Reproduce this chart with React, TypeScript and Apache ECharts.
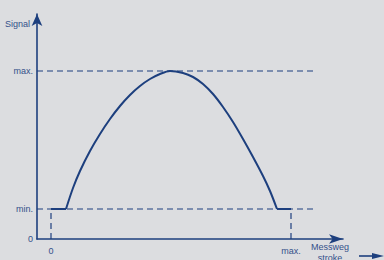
import React, { useEffect, useRef } from "react";
import * as echarts from "echarts";

// Stroke (x) and signal (y) in chart units
const strokeX = [0, 15, 22, 29, 39, 49, 59, 69, 79, 89, 99, 109, 119, 132, 142, 152, 162, 172, 182, 192, 202, 212, 219, 226, 240];
const signalY = [30, 30, 51, 68, 88, 105, 120, 133, 144, 153, 160, 165, 168, 166, 162, 155, 145, 132, 117, 100, 82, 63, 48, 30, 30];

const SIGNAL_MIN = 30;
const SIGNAL_MAX = 168;
const STROKE_MAX = 240;
const X_AXIS_MIN = -14;
const X_AXIS_MAX = 292;
const Y_AXIS_MAX = 225;
const GUIDE_END = 262;

const yTickValues = [0, SIGNAL_MIN, SIGNAL_MAX];
const yTickLabels = ["0", "min.", "max."];
const xTickValues = [0, STROKE_MAX];
const xTickLabels = ["0", "max."];

const LINE = "#1d3f7e";
const TEXT = "#34508a";
const FONT = "Liberation Sans, Arial, sans-serif";

export default function App() {
  const ref = useRef<HTMLDivElement>(null);
  useEffect(() => {
    if (!ref.current) return;
    const chart = echarts.init(ref.current, undefined, { renderer: "svg" });
    const dashed = { color: LINE, width: 1.2, type: [6, 4] as any };
    const pts = strokeX.map((x, i) => [x, signalY[i]]);
    const n = pts.length;
    chart.setOption({
      animation: false,
      backgroundColor: "#dcdde0",
      grid: { left: 37, right: 41, top: 14, bottom: 21 },
      xAxis: {
        type: "value",
        min: X_AXIS_MIN,
        max: X_AXIS_MAX,
        splitLine: { show: false },
        axisTick: { show: false },
        axisLine: { show: true, onZero: true, symbol: ["none", "arrow"], symbolSize: [7, 14], lineStyle: { color: LINE, width: 1.6 } },
        axisLabel: {
          customValues: xTickValues,
          formatter: (v: number) => xTickLabels[xTickValues.indexOf(v)] ?? "",
          color: TEXT,
          fontSize: 9,
          fontFamily: FONT,
          margin: 7,
        },
      },
      yAxis: {
        type: "value",
        min: 0,
        max: Y_AXIS_MAX,
        splitLine: { show: false },
        axisTick: { show: false },
        axisLine: { show: true, onZero: false, symbol: ["none", "arrow"], symbolSize: [8, 12], lineStyle: { color: LINE, width: 1.6 } },
        axisLabel: {
          customValues: yTickValues,
          formatter: (v: number) => yTickLabels[yTickValues.indexOf(v)] ?? "",
          color: TEXT,
          fontSize: 9,
          fontFamily: FONT,
          margin: 4,
        },
      },
      series: [
        { type: "line", data: [[X_AXIS_MIN, SIGNAL_MAX], [GUIDE_END, SIGNAL_MAX]], symbol: "none", lineStyle: dashed },
        { type: "line", data: [[X_AXIS_MIN, SIGNAL_MIN], [GUIDE_END, SIGNAL_MIN]], symbol: "none", lineStyle: dashed },
        { type: "line", data: [[0, 0], [0, SIGNAL_MIN]], symbol: "none", lineStyle: dashed },
        { type: "line", data: [[STROKE_MAX, 0], [STROKE_MAX, SIGNAL_MIN]], symbol: "none", lineStyle: dashed },
        { type: "line", data: pts.slice(0, 2), symbol: "none", lineStyle: { color: LINE, width: 2 }, z: 5 },
        { type: "line", data: pts.slice(n - 2), symbol: "none", lineStyle: { color: LINE, width: 2 }, z: 5 },
        {
          type: "line",
          data: pts.slice(1, n - 1),
          symbol: "none",
          smooth: 0.3,
          lineStyle: { color: LINE, width: 2 },
          z: 5,
        },
      ],
      graphic: [
        { type: "text", right: 354, top: 19, style: { text: "Signal", fill: TEXT, font: `9px ${FONT}`, textAlign: "right" } },
        { type: "text", x: 330, y: 247, style: { text: "Messweg", fill: TEXT, font: `9px ${FONT}`, textAlign: "center", textVerticalAlign: "middle" } },
        { type: "text", x: 330, y: 258, style: { text: "stroke", fill: TEXT, font: `9px ${FONT}`, textAlign: "center", textVerticalAlign: "middle" } },
        { type: "line", shape: { x1: 359, y1: 256, x2: 374, y2: 256 }, style: { stroke: LINE, lineWidth: 1.6 } },
        { type: "polygon", shape: { points: [[372, 253], [384, 256], [372, 259]] }, style: { fill: LINE } },
      ],
    });
    return () => chart.dispose();
  }, []);
  return <div ref={ref} style={{ position: "fixed", left: 0, top: 0, width: 384, height: 260 }} />;
}
